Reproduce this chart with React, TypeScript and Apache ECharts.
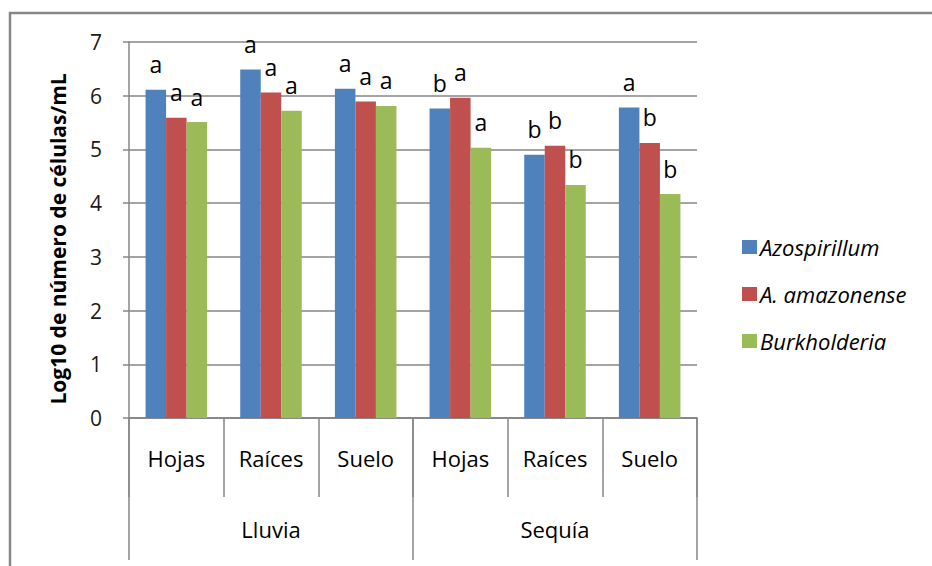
import React, { useEffect, useRef } from "react";
import * as echarts from "echarts";

const categories = ["Hojas", "Raíces", "Suelo", "Hojas", "Raíces", "Suelo"];
const groups = ["Lluvia", "Sequía"];
const seriesNames = ["Azospirillum", "A. amazonense", "Burkholderia"];
const azospirillum = [6.11, 6.49, 6.13, 5.76, 4.9, 5.78];
const amazonense = [5.59, 6.06, 5.89, 5.96, 5.07, 5.12];
const burkholderia = [5.51, 5.72, 5.81, 5.03, 4.34, 4.17];
const lettersAzo = ["a", "a", "a", "b", "b", "a"];
const lettersAma = ["a", "a", "a", "a", "b", "b"];
const lettersBur = ["a", "a", "a", "a", "b", "b"];
const colors = ["#4F81BD", "#C0504D", "#9BBB59"];

const FONT = "'Open Sans', 'Noto Sans', sans-serif";
const GRAY = "#868686";

export default function App() {
  const ref = useRef<HTMLDivElement>(null);
  useEffect(() => {
    document.body.style.margin = "0";
    const chart = echarts.init(ref.current!, null, { renderer: "svg" });
    const values = [azospirillum, amazonense, burkholderia];
    const letters = [lettersAzo, lettersAma, lettersBur];
    chart.setOption({
      animation: false,
      backgroundColor: "#ffffff",
      textStyle: { fontFamily: FONT },
      graphic: [
        {
          type: "rect",
          shape: { x: 10, y: 13, width: 1000, height: 700 },
          style: { fill: "none", stroke: GRAY, lineWidth: 2.5 },
          silent: true,
        },
      ],
      grid: { left: 129, right: 235, top: 42, bottom: 148 },
      legend: {
        orient: "vertical",
        left: 737,
        top: 231,
        itemWidth: 15,
        itemHeight: 14,
        itemGap: 25,
        icon: "rect",
        data: seriesNames,
        textStyle: {
          fontFamily: FONT,
          fontStyle: "italic",
          fontSize: 22,
          color: "#000",
          padding: [0, 0, 0, -2],
        },
      },
      xAxis: [
        {
          type: "category",
          data: categories,
          position: "bottom",
          axisLine: { show: true, lineStyle: { color: GRAY, width: 1.5 } },
          axisTick: { show: true, length: 79, interval: 0, lineStyle: { color: GRAY, width: 1.5 } },
          axisLabel: { interval: 0, margin: 29, fontSize: 22, color: "#000", fontFamily: FONT },
        },
        {
          type: "category",
          data: groups,
          position: "bottom",
          offset: 0,
          axisLine: { show: true, lineStyle: { color: GRAY, width: 1.5 } },
          axisTick: { show: true, length: 142, interval: 0, lineStyle: { color: GRAY, width: 1.5 } },
          axisLabel: { interval: 0, margin: 100, fontSize: 22, color: "#000", fontFamily: FONT },
        },
      ],
      yAxis: {
        type: "value",
        min: 0,
        max: 7,
        interval: 1,
        name: "Log10 de número de células/mL",
        nameLocation: "middle",
        nameGap: 61,
        nameTextStyle: {
          fontSize: 21,
          fontWeight: "bold",
          color: "#000",
          fontFamily: FONT,
          padding: [0, 18, 0, 0],
        },
        axisLine: { show: true, lineStyle: { color: GRAY, width: 1.5 } },
        axisTick: { show: true, length: 6, lineStyle: { color: GRAY, width: 1.5 } },
        axisLabel: { margin: 27, fontSize: 21, color: "#1a1a1a", fontFamily: FONT },
        splitLine: { show: true, lineStyle: { color: GRAY, width: 1.5 } },
      },
      series: seriesNames.map((name, i) => ({
        name,
        type: "bar",
        xAxisIndex: 0,
        barGap: "0%",
        barCategoryGap: "35%",
        itemStyle: { color: colors[i] },
        data: values[i].map((v, j) => ({
          value: v,
          label: { formatter: letters[i][j] },
        })),
        label: {
          show: true,
          position: "top",
          distance: 14,
          fontSize: 23,
          color: "#000",
          fontFamily: FONT,
        },
      })),
    });
    return () => chart.dispose();
  }, []);
  return <div ref={ref} style={{ width: 932, height: 566 }} />;
}
